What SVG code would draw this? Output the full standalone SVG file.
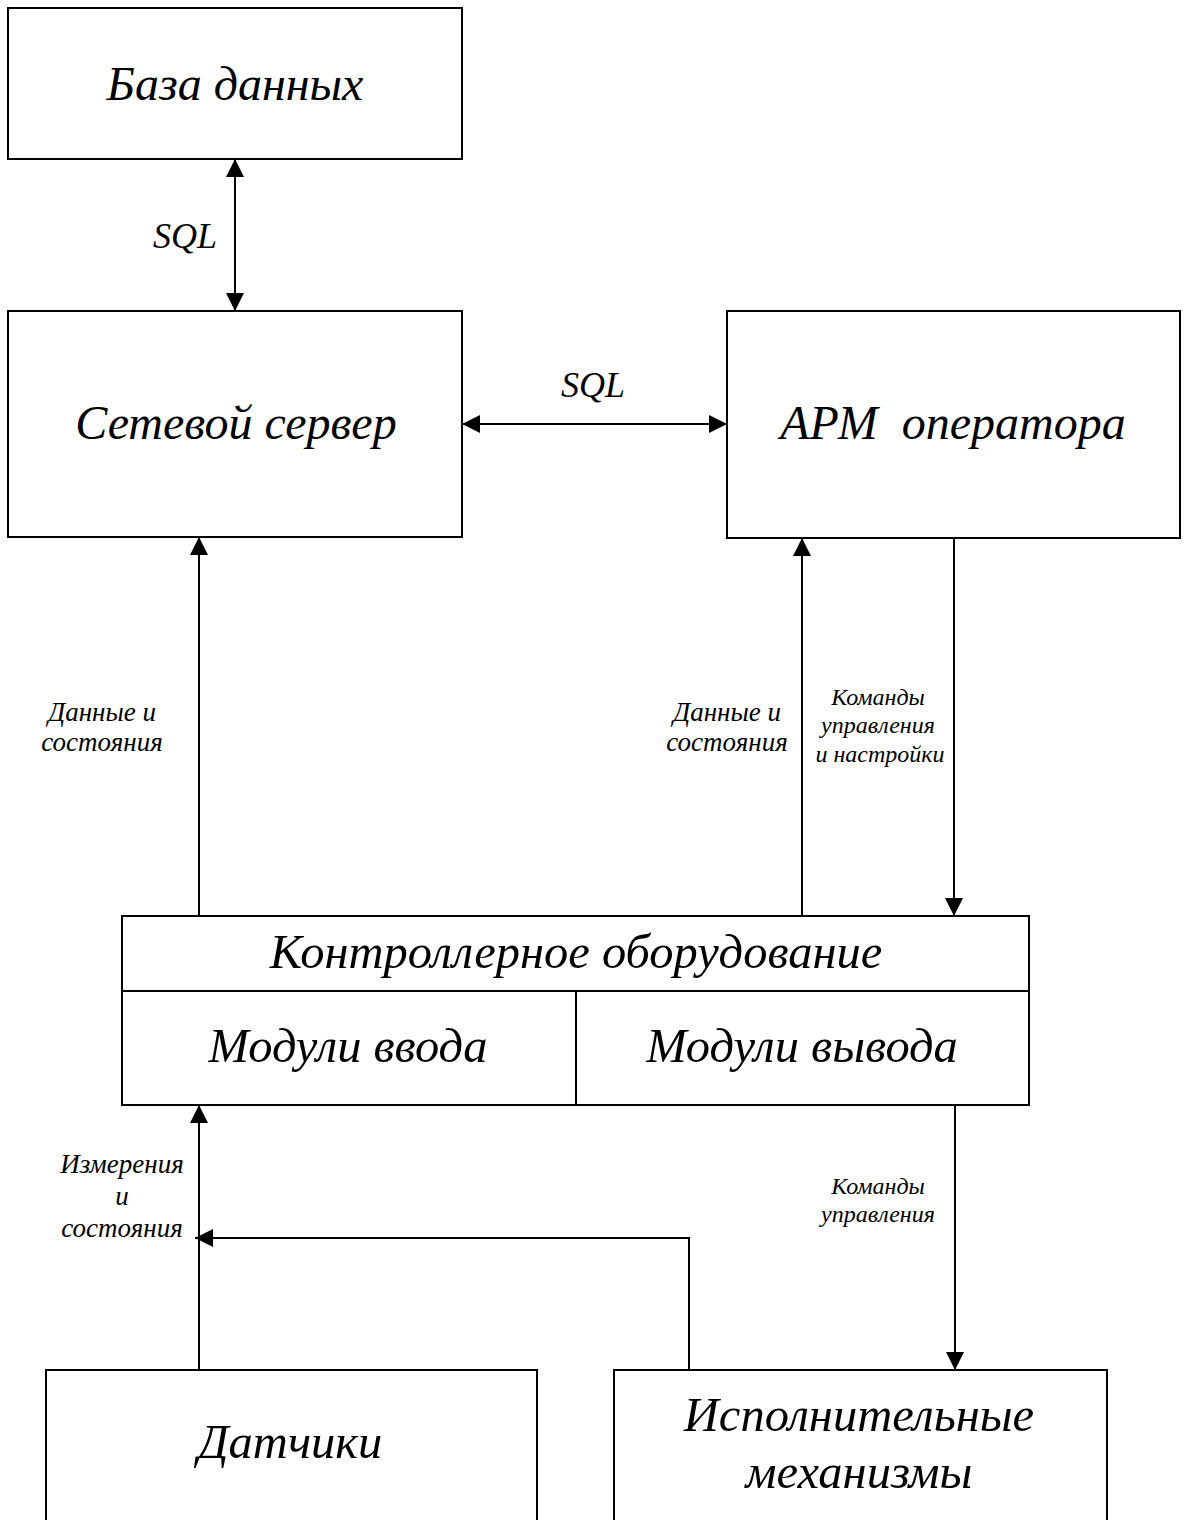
<svg xmlns="http://www.w3.org/2000/svg" width="1186" height="1520" viewBox="0 0 1186 1520">
<style>
.box{fill:#fff;stroke:#000;stroke-width:2}
.ln{fill:none;stroke:#000;stroke-width:2}
.big{font-family:"Liberation Serif","Times New Roman",serif;font-style:italic;font-size:48.5px;text-anchor:middle;fill:#000}
.sql{font-family:"Liberation Serif","Times New Roman",serif;font-style:italic;font-size:36px;text-anchor:middle;fill:#000}
.lbl{font-family:"Liberation Serif","Times New Roman",serif;font-style:italic;font-size:27px;text-anchor:middle;fill:#000}
.cmd{font-family:"Liberation Serif","Times New Roman",serif;font-style:italic;font-size:24px;text-anchor:middle;fill:#000}
</style>
<defs>
<marker id="ah" markerUnits="userSpaceOnUse" markerWidth="18" markerHeight="18" refX="18" refY="9" orient="auto-start-reverse">
<path d="M0,0 L18,9 L0,18 z" fill="#000"/>
</marker>
</defs>
<rect width="1186" height="1520" fill="#fff"/>
<g id="db">
<rect class="box" x="8" y="8" width="454" height="151"/>
<text class="big" x="235" y="100" style="font-size:48px">База данных</text>
</g>
<g id="server">
<rect class="box" x="8" y="311" width="454" height="226"/>
<text class="big" x="236" y="439" style="font-size:48px">Сетевой сервер</text>
</g>
<g id="arm">
<rect class="box" x="727" y="311" width="453" height="227"/>
<text class="big" x="953" y="439" style="font-size:48px" xml:space="preserve">АРМ  оператора</text>
</g>
<g id="controller">
<rect class="box" x="122" y="916" width="907" height="189"/>
<line class="ln" x1="122" y1="991" x2="1029" y2="991"/>
<line class="ln" x1="576" y1="991" x2="576" y2="1105"/>
<text class="big" x="576" y="968">Контроллерное оборудование</text>
<text class="big" x="348" y="1062">Модули ввода</text>
<text class="big" x="802" y="1062">Модули вывода</text>
</g>
<g id="sensors">
<rect class="box" x="46" y="1370" width="491" height="170"/>
<text class="big" x="290" y="1458">Датчики</text>
</g>
<g id="actuators">
<rect class="box" x="614" y="1370" width="493" height="170"/>
<text class="big" x="859" y="1431">Исполнительные</text>
<text class="big" x="859" y="1488">механизмы</text>
</g>
<g id="connectors">
<line class="ln" x1="235" y1="159" x2="235" y2="311" marker-start="url(#ah)" marker-end="url(#ah)"/>
<line class="ln" x1="462" y1="424" x2="727" y2="424" marker-start="url(#ah)" marker-end="url(#ah)"/>
<line class="ln" x1="199" y1="916" x2="199" y2="537" marker-end="url(#ah)"/>
<line class="ln" x1="802" y1="916" x2="802" y2="538" marker-end="url(#ah)"/>
<line class="ln" x1="954" y1="538" x2="954" y2="916" marker-end="url(#ah)"/>
<line class="ln" x1="199" y1="1370" x2="199" y2="1105" marker-end="url(#ah)"/>
<polyline class="ln" points="689,1370 689,1238 195,1238" marker-end="url(#ah)"/>
<line class="ln" x1="955" y1="1105" x2="955" y2="1370" marker-end="url(#ah)"/>
<text class="sql" x="185" y="248">SQL</text>
<text class="sql" x="593" y="397">SQL</text>
<text class="lbl" x="102" y="721">Данные и</text>
<text class="lbl" x="102" y="751">состояния</text>
<text class="lbl" x="727" y="721">Данные и</text>
<text class="lbl" x="727" y="751">состояния</text>
<text class="cmd" x="878" y="705">Команды</text>
<text class="cmd" x="878" y="733">управления</text>
<text class="cmd" x="880" y="762">и настройки</text>
<text class="lbl" x="122" y="1173">Измерения</text>
<text class="lbl" x="122" y="1205">и</text>
<text class="lbl" x="122" y="1237">состояния</text>
<text class="cmd" x="878" y="1194">Команды</text>
<text class="cmd" x="878" y="1222">управления</text>
</g>
</svg>
